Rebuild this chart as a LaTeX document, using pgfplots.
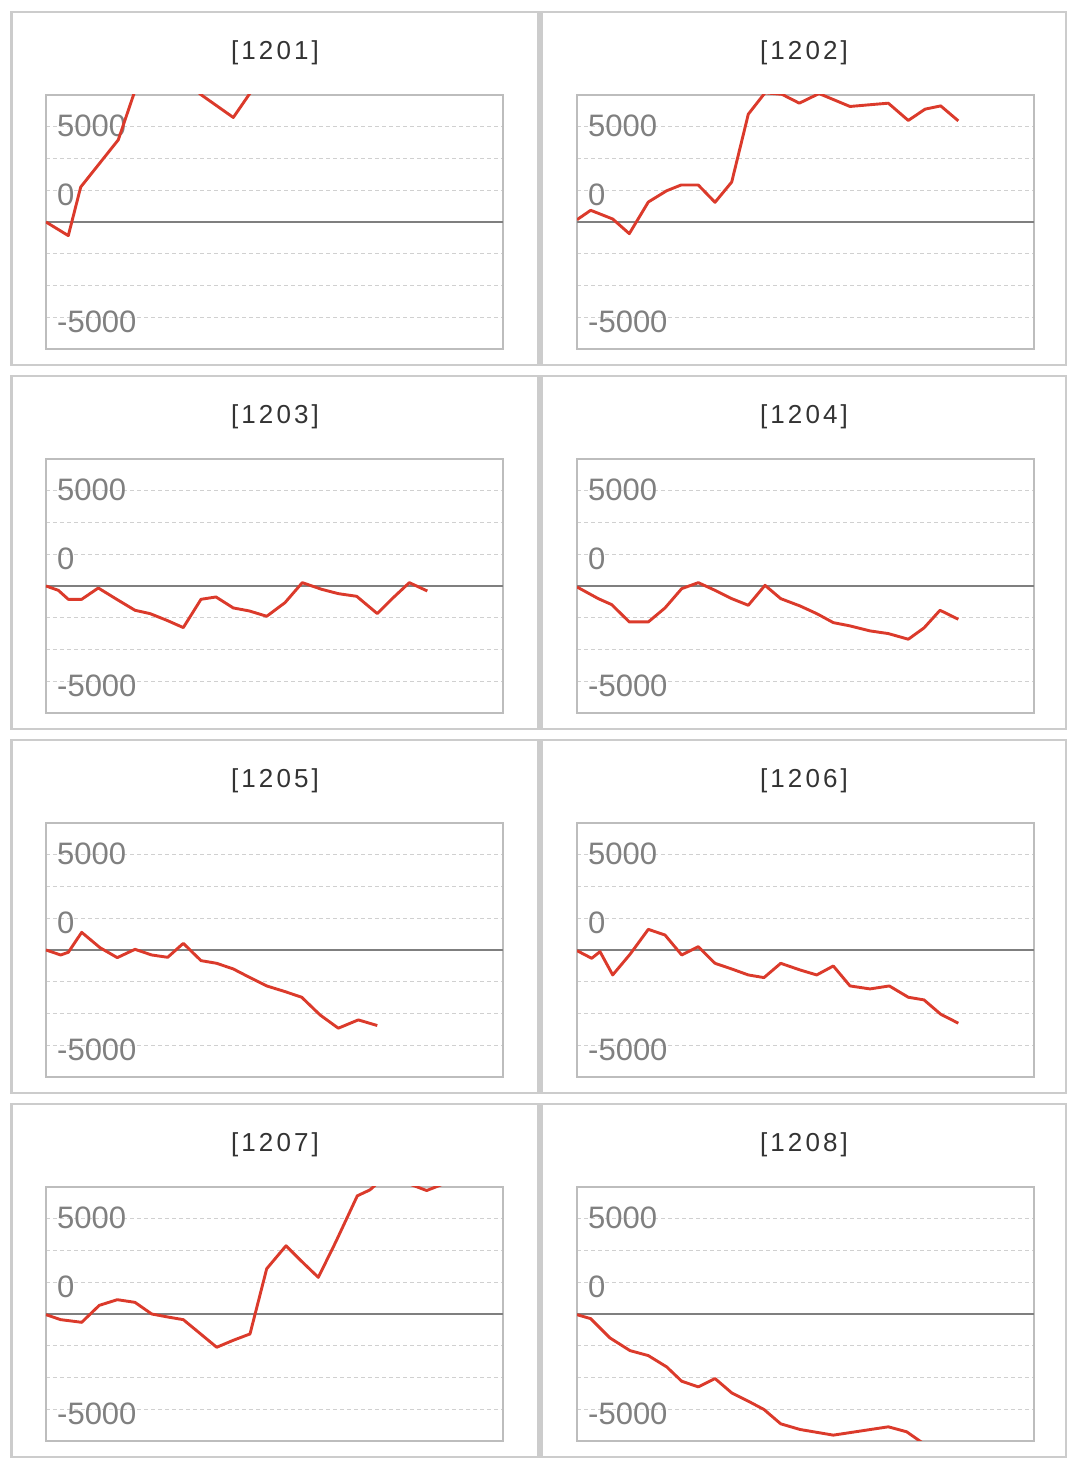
\documentclass[border=0pt]{standalone}
\usepackage{fontspec}
\setmainfont{Liberation Sans}
\newfontfamily\titlefont[LetterSpace=12]{Liberation Sans}
\usepackage{pgfplots}
\pgfplotsset{compat=1.18}
\definecolor{framec}{HTML}{CCCCCC}
\definecolor{axisc}{HTML}{BDBDBD}
\definecolor{gridc}{HTML}{D0D0D0}
\definecolor{zeroc}{HTML}{7F7F7F}
\definecolor{tickc}{HTML}{808080}
\definecolor{titlec}{HTML}{333333}
\definecolor{redc}{HTML}{DB3A2B}
\pgfplotsset{panel/.style={
  scale only axis, width=457pt, height=254pt,
  xmin=0, xmax=457, ymin=-6666.67, ymax=6666.67,
  xtick=\empty,
  ytick={-5000,-3333.33,-1666.67,1666.67,3333.33,5000},
  yticklabels={},
  yticklabel style={opacity=0},
  major tick length=0pt,
  ymajorgrids,
  major grid style={dash pattern=on 4pt off 3pt, color=gridc, line width=1pt},
  extra y ticks={0}, extra y tick labels={},
  extra y tick style={grid=major, major grid style={solid, color=zeroc, line width=2.2pt}},
  axis line style={color=axisc, line width=2pt},
  anchor=south west,
  clip mode=individual,
}}
\newcommand{\ticklabels}{%
  \node[anchor=west, inner sep=0pt, text=tickc, font=\fontsize{31}{37}\selectfont] at (axis cs:11,5072) {5000};
  \node[anchor=west, inner sep=0pt, text=tickc, font=\fontsize{31}{37}\selectfont] at (axis cs:11,1415) {0};
  \node[anchor=west, inner sep=0pt, text=tickc, font=\fontsize{31}{37}\selectfont] at (axis cs:11,-5250) {-5000};
}
\tikzset{series/.style={color=redc, line width=2.9pt, line join=round, mark=none}}
\begin{document}
\begin{tikzpicture}[x=1pt,y=1pt]
\useasboundingbox (0,0) rectangle (1076,1467);
% frames
\foreach \yt in {1455,1091,727,363}{
  \draw[framec, line width=2.6pt] (11.5,\yt) rectangle (538.2,\yt-353);
  \draw[framec, line width=2.6pt] (541.2,\yt) rectangle (1066,\yt-353);
}
% titles
\foreach \yb/\a/\b in {1407/1201/1202,1043/1203/1204,679/1205/1206,315/1207/1208}{
  \node[anchor=base, inner sep=0pt, text=titlec, font=\titlefont\fontsize{26}{31}\selectfont] at (275,\yb) {[\a]};
  \node[anchor=base, inner sep=0pt, text=titlec, font=\titlefont\fontsize{26}{31}\selectfont] at (804,\yb) {[\b]};
}
% 1201
\begin{axis}[panel, at={(46pt,1118pt)}]
\ticklabels
\addplot[series] coordinates {(0,0) (22.3,-717) (34.7,1834) (72.3,4313) (89,6900) (105.5,8000) (122,8700) (138,7900) (154,6720) (187.3,5486) (204,6760) (221,7500) (238,8200) (254.5,8600) (271,9300) (288,9000) (304.5,9700) (321,10200) (338,9900) (354.5,10600) (371,11000) (381.3,11200)};
\end{axis}
% 1202
\begin{axis}[panel, at={(577pt,1118pt)}]
\ticklabels
\addplot[series] coordinates {(0,120) (13.7,613) (35.7,157) (52.3,-613) (71.3,1048) (89.7,1640) (104,1939) (121.3,1939) (138,1032) (154.7,2096) (171.3,5659) (188,6780) (205,6700) (222.3,6236) (242,6740) (273,6063) (292,6150) (311.3,6236) (331.3,5329) (348,5921) (363.7,6094) (381.3,5308)};
\end{axis}
% 1203
\begin{axis}[panel, at={(46pt,754pt)}]
\ticklabels
\addplot[series] coordinates {(0,0) (12.3,-227) (22.3,-699) (35.7,-699) (52.3,-105) (70.7,-699) (89,-1275) (104,-1450) (120.7,-1799) (137.3,-2184) (155,-699) (170,-577) (187.3,-1153) (203.3,-1310) (220.7,-1590) (239,-874) (256.3,175) (275.7,-175) (292.3,-402) (310.7,-542) (331.3,-1450) (347.3,-611) (363.3,175) (381.3,-262)};
\end{axis}
% 1204
\begin{axis}[panel, at={(577pt,754pt)}]
\ticklabels
\addplot[series] coordinates {(0,-52) (21.3,-664) (34.7,-978) (52.3,-1887) (71.3,-1887) (88,-1153) (104.7,-140) (121.3,175) (138,-227) (154.7,-664) (171.3,-1013) (188,35) (203.7,-664) (223,-1048) (239.7,-1450) (256.3,-1922) (273,-2096) (293,-2358) (311.3,-2498) (331.3,-2795) (347,-2201) (363,-1275) (381.3,-1747)};
\end{axis}
% 1205
\begin{axis}[panel, at={(46pt,390pt)}]
\ticklabels
\addplot[series] coordinates {(0,0) (14.7,-262) (22.3,-122) (35.7,926) (54,122) (71.3,-402) (89,35) (105.7,-262) (121.7,-384) (137.3,349) (155,-559) (170.7,-699) (187.3,-996) (204,-1450) (220.7,-1887) (239,-2184) (255.7,-2481) (274,-3407) (292.3,-4105) (312.3,-3669) (331.3,-3966)};
\end{axis}
% 1206
\begin{axis}[panel, at={(577pt,390pt)}]
\ticklabels
\addplot[series] coordinates {(0,-35) (14.7,-437) (23,-87) (35.7,-1310) (53,-227) (71.3,1083) (88,786) (104.7,-262) (121.3,175) (138,-699) (154.7,-996) (171.3,-1310) (187,-1450) (203.7,-699) (223,-1048) (239.7,-1310) (256.3,-839) (273,-1887) (293,-2044) (312.3,-1887) (331.3,-2481) (347,-2620) (363.7,-3372) (381.3,-3843)};
\end{axis}
% 1207
\begin{axis}[panel, at={(46pt,26pt)}]
\ticklabels
\addplot[series] coordinates {(0,-35) (14.7,-297) (35.7,-437) (53.3,454) (71.3,751) (89,611) (105.7,0) (121.7,-157) (137.3,-297) (154,-1020) (170.7,-1747) (187.3,-1380) (204,-1048) (220.7,2376) (240,3581) (255.7,2760) (272.3,1922) (290,3808) (311.3,6202) (324,6516) (340.5,7300) (357,6950) (380.7,6480) (397,6820)};
\end{axis}
% 1208
\begin{axis}[panel, at={(577pt,26pt)}]
\ticklabels
\addplot[series] coordinates {(0,-35) (13.7,-245) (33,-1258) (53,-1922) (71.3,-2184) (89.7,-2778) (104.7,-3529) (121.3,-3826) (138,-3389) (154.7,-4140) (171.3,-4577) (187,-5014) (203.7,-5765) (223,-6062) (256.3,-6359) (311.3,-5922) (329.7,-6184) (347,-6820) (363.7,-7200) (381.3,-7500)};
\end{axis}
\end{tikzpicture}
\end{document}
